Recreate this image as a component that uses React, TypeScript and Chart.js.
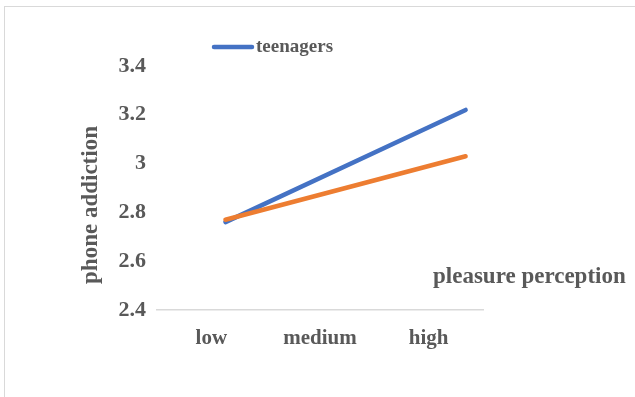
import React, { useEffect, useRef } from "react";
import { Chart, registerables } from "chart.js";

Chart.register(...registerables);

const categories = ["low", "medium", "high"];
const lineX = [0.63, 2.84];
const teenagers = [2.76, 3.22];
const adults = [2.77, 3.03];
const yTicks = [2.4, 2.6, 2.8, 3, 3.2, 3.4];
const legendLabel = "teenagers";
const yTitle = "phone addiction";
const xTitle = "pleasure perception";

const FONT = '"Liberation Serif", "Times New Roman", serif';
const GRAY = "#595959";
const BLUE = "#4472C4";
const ORANGE = "#ED7D31";

const textPlugin = {
  id: "extraText",
  afterDraw(chart: any) {
    const { ctx, chartArea } = chart;
    ctx.save();
    ctx.fillStyle = GRAY;
    // y title
    ctx.font = `bold 23px ${FONT}`;
    ctx.textAlign = "center";
    ctx.textBaseline = "middle";
    ctx.translate(chartArea.left - 66, chartArea.top + 139);
    ctx.rotate(-Math.PI / 2);
    ctx.fillText(yTitle, 0, 0);
    ctx.restore();

    ctx.save();
    ctx.fillStyle = GRAY;
    ctx.font = `bold 23px ${FONT}`;
    ctx.textAlign = "left";
    ctx.textBaseline = "middle";
    ctx.fillText(xTitle, chartArea.right - 50, chartArea.bottom - 33);

    // legend
    const lx = chartArea.left + 57;
    const ly = chartArea.top - 19;
    ctx.strokeStyle = BLUE;
    ctx.lineWidth = 4.5;
    ctx.lineCap = "round";
    ctx.beginPath();
    ctx.moveTo(lx, ly);
    ctx.lineTo(lx + 38, ly);
    ctx.stroke();
    ctx.font = `bold 19px ${FONT}`;
    ctx.fillText(legendLabel, lx + 42, ly);
    ctx.restore();
  },
};

export default function App() {
  const ref = useRef<HTMLCanvasElement>(null);
  useEffect(() => {
    document.body.style.margin = "0";
    const chart = new Chart(ref.current!, {
      type: "line",
      data: {
        datasets: [
          {
            label: legendLabel,
            data: lineX.map((x, i) => ({ x, y: teenagers[i] })),
            borderColor: BLUE,
            backgroundColor: BLUE,
            borderWidth: 4.5,
            borderCapStyle: "round",
            pointRadius: 0,
            order: 2,
          },
          {
            label: "",
            data: lineX.map((x, i) => ({ x, y: adults[i] })),
            borderColor: ORANGE,
            backgroundColor: ORANGE,
            borderWidth: 4.5,
            borderCapStyle: "round",
            pointRadius: 0,
            order: 1,
          },
        ],
      },
      options: {
        animation: false,
        responsive: false,
        layout: { padding: { top: 66, right: 152, left: 0, bottom: 0 } },
        plugins: { legend: { display: false }, tooltip: { enabled: false } },
        scales: {
          x: {
            type: "linear",
            min: 0,
            max: 3,
            afterBuildTicks: (scale: any) => {
              scale.ticks = categories.map((_, i) => ({ value: i + 0.5 }));
            },
            afterFit: (scale: any) => {
              scale.height = 87;
            },
            ticks: {
              callback: (v: any) => categories[Math.floor(Number(v))] ?? "",
              color: GRAY,
              font: { family: FONT, size: 21, weight: "bold" },
              padding: 16,
              autoSkip: false,
              maxRotation: 0,
            },
            grid: { display: false, drawTicks: false },
            border: { display: true, color: "#d9d9d9", width: 1.5 },
          },
          y: {
            min: 2.4,
            max: 3.4,
            afterBuildTicks: (scale: any) => {
              scale.ticks = yTicks.map((v) => ({ value: v }));
            },
            afterFit: (scale: any) => {
              scale.width = 157;
            },
            ticks: {
              callback: (v: any) => String(Math.round(Number(v) * 10) / 10),
              color: GRAY,
              font: { family: FONT, size: 22, weight: "bold" },
              padding: 11,
            },
            grid: { display: false, drawTicks: false },
            border: { display: false },
          },
        },
      },
      plugins: [textPlugin],
    } as any);
    return () => chart.destroy();
  }, []);

  return (
    <div style={{ position: "fixed", left: 0, top: 0, width: 635, height: 397, overflow: "hidden", background: "#fff" }}>
      <div
        style={{
          position: "absolute",
          left: 4,
          top: 6,
          width: 700,
          height: 500,
          border: "1px solid #d9d9d9",
        }}
      />
      <canvas ref={ref} width={635} height={397} style={{ position: "absolute", left: 0, top: 0 }} />
    </div>
  );
}
